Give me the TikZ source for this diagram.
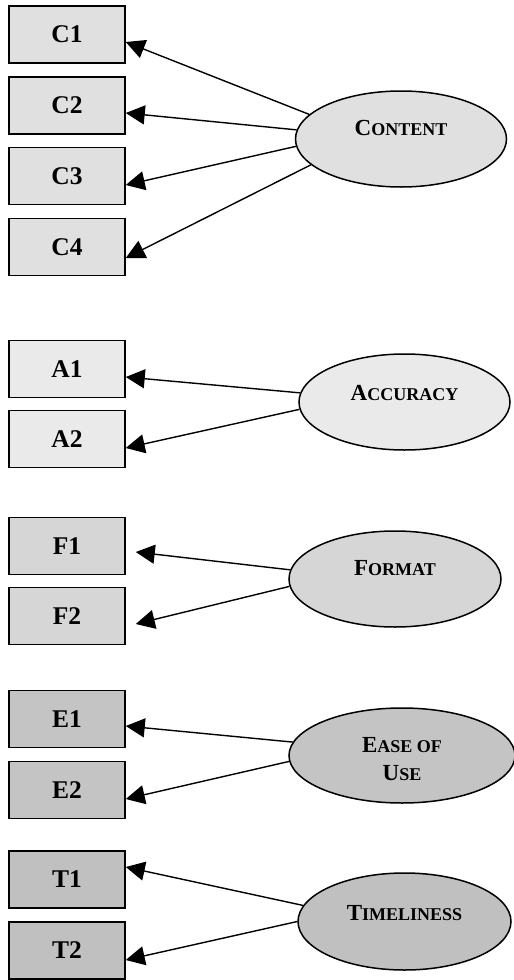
\documentclass[tikz,border=0pt]{standalone}
\usepackage{fontspec}
\setmainfont{Liberation Serif}
\usetikzlibrary{shapes.geometric,arrows.meta}
\definecolor{cC}{HTML}{E0E0E0}
\definecolor{cA}{HTML}{EAEAEA}
\definecolor{cF}{HTML}{D6D6D6}
\definecolor{cE}{HTML}{C4C4C4}
\definecolor{cT}{HTML}{C0C0C0}
\newcommand{\fsc}[2]{{\fontsize{23}{26}\selectfont\bfseries #1\fontsize{18}{26}\selectfont #2}}
\tikzset{
  item/.style={draw=black, line width=1.5pt, minimum width=116pt, minimum height=57pt,
    inner sep=0pt, font=\fontsize{25.5}{28}\selectfont\bfseries},
  factor/.style={draw=black, line width=1.5pt, ellipse, inner sep=0pt, align=center},
  conn/.style={line width=1.4pt, -{Triangle[length=19pt,width=19pt]}},
}
\begin{document}
\begin{tikzpicture}[x=1pt,y=-1pt]
\useasboundingbox (0,0) rectangle (514,980);
% items
\node[item, fill=cC] (c1) at (67,34.5) {C1};
\node[item, fill=cC] (c2) at (67,105.5) {C2};
\node[item, fill=cC] (c3) at (67,176) {C3};
\node[item, fill=cC] (c4) at (67,247) {C4};
\node[item, fill=cA] (a1) at (67,369) {A1};
\node[item, fill=cA] (a2) at (67,439) {A2};
\node[item, fill=cF] (f1) at (67,546) {F1};
\node[item, fill=cF] (f2) at (67,616) {F2};
\node[item, fill=cE] (e1) at (67,719) {E1};
\node[item, fill=cE] (e2) at (67,790) {E2};
\node[item, fill=cT] (t1) at (67,879.5) {T1};
\node[item, fill=cT] (t2) at (67,950.5) {T2};
% factors
\node[factor, fill=cC, minimum width=211pt, minimum height=96pt] (con) at (401,139)
  {\raisebox{22pt}{\fsc{C}{ONTENT}}};
\node[factor, fill=cA, minimum width=211pt, minimum height=96pt] (acc) at (404.5,402)
  {\raisebox{19pt}{\fsc{A}{CCURACY}}};
\node[factor, fill=cF, minimum width=212pt, minimum height=96pt] (fmt) at (395,579)
  {\raisebox{23pt}{\fsc{F}{ORMAT}}};
\node[factor, fill=cE, minimum width=226pt, minimum height=95pt] (eou) at (402,755.5)
  {\raisebox{-5pt}[\height][\depth]{\begin{tabular}{@{}c@{}}\fsc{E}{ASE OF}\\[9pt]\fsc{U}{SE}\end{tabular}}};
\node[factor, fill=cT, minimum width=213pt, minimum height=97pt] (tim) at (404.5,921.5)
  {\raisebox{18pt}{\fsc{T}{IMELINESS}}};
% connectors
\draw[conn] (con.165.1) -- ([yshift=-7.5pt]c1.east);
\draw[conn] (con.175.1) -- ([yshift=-7.5pt]c2.east);
\draw[conn] (con.184.9) -- ([yshift=-9pt]c3.east);
\draw[conn] (con.196.9) -- ([yshift=-11pt]c4.east);
\draw[conn] (acc.175.7) -- ([yshift=-8pt]a1.east);
\draw[conn] (acc.184.8) -- ([yshift=-9pt]a2.east);
\draw[conn] (fmt.175.7) -- ([xshift=10pt,yshift=-6pt]f1.east);
\draw[conn] (fmt.184.3) -- ([xshift=10pt,yshift=-8pt]f2.east);
\draw[conn] (eou.173.6) -- ([yshift=-7pt]e1.east);
\draw[conn] (eou.183.9) -- ([yshift=-9pt]e2.east);
\draw[conn] (tim.171.7) -- ([yshift=12.5pt]t1.east);
\draw[conn] (tim.180.3) -- ([yshift=-9.5pt]t2.east);
\end{tikzpicture}
\end{document}
